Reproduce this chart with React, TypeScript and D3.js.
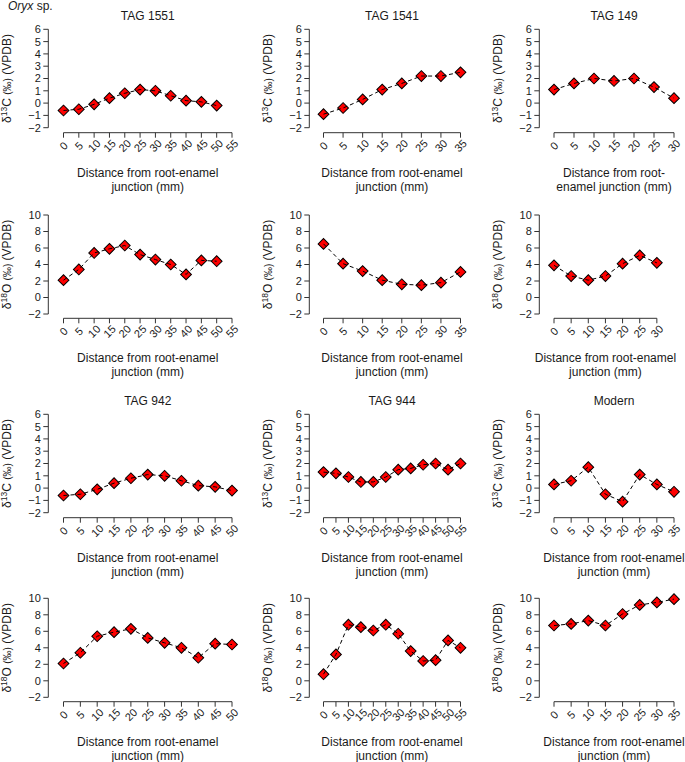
import * as d3 from "d3";

// distances along the tooth (mm)
const dist0to30 = [0, 5, 10, 15, 20, 25, 30];
const dist0to35 = [0, 5, 10, 15, 20, 25, 30, 35];
const dist0to50 = [0, 5, 10, 15, 20, 25, 30, 35, 40, 45, 50];
const dist0to55 = [0, 5, 10, 15, 20, 25, 30, 35, 40, 45, 50, 55];

// d13C series
const tag1551Carbon = [-0.6, -0.5, -0.1, 0.4, 0.8, 1.1, 1.0, 0.6, 0.2, 0.1, -0.2];
const tag1541Carbon = [-0.9, -0.4, 0.3, 1.1, 1.6, 2.2, 2.2, 2.5];
const tag149Carbon = [1.1, 1.6, 2.0, 1.8, 2.0, 1.3, 0.4];
const tag942Carbon = [-0.6, -0.5, -0.1, 0.4, 0.8, 1.1, 1.0, 0.6, 0.2, 0.1, -0.2];
const tag944Carbon = [1.3, 1.2, 0.9, 0.5, 0.5, 0.9, 1.5, 1.6, 1.9, 2.0, 1.5, 2.0];
const modernCarbon = [0.3, 0.6, 1.7, -0.5, -1.1, 1.1, 0.3, -0.3];

// d18O series
const tag1551Oxygen = [2.1, 3.4, 5.4, 5.9, 6.3, 5.2, 4.6, 4.0, 2.8, 4.5, 4.4];
const tag1541Oxygen = [6.5, 4.1, 3.2, 2.1, 1.6, 1.5, 1.8, 3.1];
const tag149Oxygen = [3.9, 2.6, 2.1, 2.6, 4.1, 5.1, 4.2];
const tag942Oxygen = [2.1, 3.4, 5.4, 5.9, 6.3, 5.2, 4.6, 4.0, 2.8, 4.5, 4.4];
const tag944Oxygen = [0.8, 3.2, 6.8, 6.5, 6.1, 6.8, 5.7, 3.6, 2.4, 2.5, 4.9, 4.0];
const modernOxygen = [6.7, 6.9, 7.3, 6.7, 8.1, 9.2, 9.5, 9.9];

const carbonTicks = [-2, -1, 0, 1, 2, 3, 4, 5, 6];
const oxygenTicks = [-2, 0, 2, 4, 6, 8, 10];

const xTitleLong = ["Distance from root-enamel", "junction (mm)"];
const xTitleShort = ["Distance from root-", "enamel junction (mm)"];

const FONT = "'Liberation Sans', Arial, Helvetica, sans-serif";

const rows = [
  { top: 29.3, bottom: 127.7, axisY: 132.7, iso: "C" },
  { top: 215, bottom: 314, axisY: 318.3, iso: "O" },
  { top: 414.3, bottom: 512.7, axisY: 517.7, iso: "C" },
  { top: 598.3, bottom: 697.3, axisY: 701.7, iso: "O" },
];

const cols = [
  { yAxisX: 48.3, xStart: 63.5, xEnd: 232 },
  { yAxisX: 309.3, xStart: 323.5, xEnd: 460.5 },
  { yAxisX: 539.3, xStart: 554, xEnd: 674 },
];

interface Panel {
  row: number;
  col: number;
  title?: string;
  x: number[];
  y: number[];
  ticks: number[];
  domainMax: number;
  xTitle: string[];
}

const panels: Panel[] = [
  { row: 0, col: 0, title: "TAG 1551", x: dist0to50, y: tag1551Carbon, ticks: dist0to55, domainMax: 55, xTitle: xTitleLong },
  { row: 0, col: 1, title: "TAG 1541", x: dist0to35, y: tag1541Carbon, ticks: dist0to35, domainMax: 35, xTitle: xTitleLong },
  { row: 0, col: 2, title: "TAG 149", x: dist0to30, y: tag149Carbon, ticks: dist0to30, domainMax: 30, xTitle: xTitleShort },
  { row: 1, col: 0, x: dist0to50, y: tag1551Oxygen, ticks: dist0to55, domainMax: 55, xTitle: xTitleLong },
  { row: 1, col: 1, x: dist0to35, y: tag1541Oxygen, ticks: dist0to35, domainMax: 35, xTitle: xTitleLong },
  { row: 1, col: 2, x: dist0to30, y: tag149Oxygen, ticks: dist0to30, domainMax: 35, xTitle: xTitleLong },
  { row: 2, col: 0, title: "TAG 942", x: dist0to50, y: tag942Carbon, ticks: dist0to50, domainMax: 50, xTitle: xTitleLong },
  { row: 2, col: 1, title: "TAG 944", x: dist0to55, y: tag944Carbon, ticks: dist0to55, domainMax: 55, xTitle: xTitleLong },
  { row: 2, col: 2, title: "Modern", x: dist0to35, y: modernCarbon, ticks: dist0to35, domainMax: 35, xTitle: xTitleLong },
  { row: 3, col: 0, x: dist0to50, y: tag942Oxygen, ticks: dist0to50, domainMax: 50, xTitle: xTitleLong },
  { row: 3, col: 1, x: dist0to55, y: tag944Oxygen, ticks: dist0to55, domainMax: 55, xTitle: xTitleLong },
  { row: 3, col: 2, x: dist0to35, y: modernOxygen, ticks: dist0to35, domainMax: 35, xTitle: xTitleLong },
];

const diamond = d3.symbol().type(d3.symbolSquare).size(58)();

function PanelPlot({ p }: { p: Panel }) {
  const r = rows[p.row];
  const c = cols[p.col];
  const yTicks = r.iso === "C" ? carbonTicks : oxygenTicks;
  const x = d3.scaleLinear().domain([0, p.domainMax]).range([c.xStart, c.xEnd]);
  const y = d3
    .scaleLinear()
    .domain([yTicks[0], yTicks[yTicks.length - 1]])
    .range([r.bottom, r.top]);
  const pts = p.x.map((d, i) => [x(d), y(p.y[i])] as [number, number]);
  const line = d3.line()(pts) || "";
  const tickMax = p.ticks[p.ticks.length - 1];
  const cx = (x(0) + x(tickMax)) / 2;
  const cy = (r.top + r.bottom) / 2;
  const sup = r.iso === "C" ? "13" : "18";

  return (
    <g>
      {p.title && (
        <text x={cx} y={r.top - 9} textAnchor="middle" fontSize={12}>
          {p.title}
        </text>
      )}
      {/* y axis */}
      <line x1={c.yAxisX} x2={c.yAxisX} y1={y(yTicks[0])} y2={y(yTicks[yTicks.length - 1])} stroke="#333" />
      {yTicks.map(t => (
        <g key={"y" + t}>
          <line x1={c.yAxisX - 5} x2={c.yAxisX} y1={y(t)} y2={y(t)} stroke="#333" />
          <text x={c.yAxisX - 7.5} y={y(t)} dy="0.36em" textAnchor="end" fontSize={11}>
            {t < 0 ? "\u2212" + Math.abs(t) : t}
          </text>
        </g>
      ))}
      <text transform={`translate(${c.yAxisX - 37},${cy}) rotate(-90)`} textAnchor="middle" fontSize={12}>
        <tspan>δ</tspan>
        <tspan dy={-4.5} fontSize={8.5}>{sup}</tspan>
        <tspan dy={4.5}>{r.iso} </tspan>
        <tspan fontSize={10}>(‰)</tspan>
        <tspan> (VPDB)</tspan>
      </text>
      {/* x axis */}
      <line x1={x(0)} x2={x(tickMax)} y1={r.axisY} y2={r.axisY} stroke="#333" />
      {p.ticks.map(t => (
        <g key={"x" + t}>
          <line x1={x(t)} x2={x(t)} y1={r.axisY} y2={r.axisY + 5} stroke="#333" />
          <text
            transform={`translate(${x(t)},${r.axisY + 13}) rotate(-45)`}
            textAnchor="middle"
            dy="0.36em"
            fontSize={11}
          >
            {t}
          </text>
        </g>
      ))}
      {p.xTitle.map((s, i) => (
        <text key={s} x={cx} y={r.axisY + 44 + i * 14} textAnchor="middle" fontSize={12}>
          {s}
        </text>
      ))}
      {/* points then dashed line */}
      {pts.map(([px, py], i) => (
        <path key={i} d={diamond} transform={`translate(${px},${py}) rotate(45)`} fill="#ff0000" stroke="#000" strokeWidth={1} />
      ))}
      <path d={line} fill="none" stroke="#000" strokeWidth={1} strokeDasharray="4,3" />
    </g>
  );
}

export default function App() {
  return (
    <svg
      width={685}
      height={762}
      style={{ position: "absolute", left: 0, top: 0, background: "#fff" }}
      fontFamily={FONT}
      fill="#1a1a1a"
    >
      <text x={8} y={9.8} fontSize={12}>
        <tspan fontStyle="italic">Oryx</tspan>
        <tspan> sp.</tspan>
      </text>
      {panels.map((p, i) => (
        <PanelPlot key={i} p={p} />
      ))}
    </svg>
  );
}
